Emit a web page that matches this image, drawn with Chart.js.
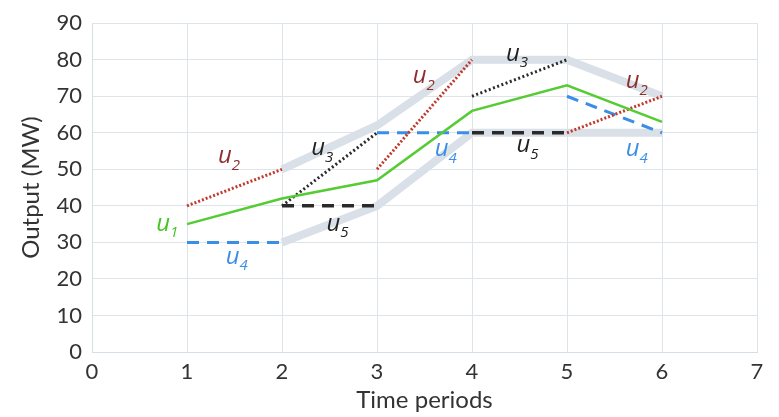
<!DOCTYPE html>
<html>
<head>
<meta charset="utf-8">
<script src="https://cdn.jsdelivr.net/npm/chart.js@4/dist/chart.umd.min.js"></script>
<style>
html,body{margin:0;padding:0;background:#fff;}
#wrap{width:779px;height:417px;}
</style>
</head>
<body>
<div id="wrap"><canvas id="c" width="779" height="417"></canvas></div>
<script>
// ---- data ----
const periods = [1, 2, 3, 4, 5, 6];
const u1Output = [35, 42, 47, 66, 73, 63];
// segments: [x0, y0, x1, y1]
const u2Segments = [[1, 40, 2, 50], [3, 50, 4, 80], [5, 60, 6, 70]];
const u3Segments = [[2, 40, 3, 60], [4, 70, 5, 80]];
const u4Segments = [[1, 30, 2, 30], [3, 60, 4, 60], [5, 70, 6, 60]];
const u5Segments = [[2, 40, 3, 40], [4, 60, 5, 60]];
const upperBandX = [2, 3, 4, 5, 6];
const upperBandY = [50, 62, 80, 80, 70];
const lowerBandX = [2, 3, 4, 5, 6];
const lowerBandY = [30, 40, 60, 60, 60];
const yTicks = [0, 10, 20, 30, 40, 50, 60, 70, 80, 90];
const xTicks = [0, 1, 2, 3, 4, 5, 6, 7];
// unit labels: [unit number, x, y]
const unitLabels = [
  [1, 0.75, 35], [2, 1.40, 53.5], [3, 2.38, 55.7], [5, 2.54, 35], [4, 1.48, 26],
  [2, 3.45, 75.4], [4, 3.68, 55.4], [3, 4.43, 81.6], [5, 4.54, 56.5],
  [2, 5.69, 74], [4, 5.69, 55.4]
];

const GREEN = '#55cc33', RED = '#c0392b', BLACK = '#2a2a2a', BLUE = '#3a8ee6', GRAY = '#d9e0e7';
const labelColors = {1: '#44c522', 2: '#8e2f2f', 3: '#222222', 4: '#3a8ee6', 5: '#222222'};

function segPoints(segs) {
  const pts = [];
  segs.forEach((s, i) => {
    if (i > 0) pts.push({x: (segs[i-1][2] + s[0]) / 2, y: null});
    pts.push({x: s[0], y: s[1]}, {x: s[2], y: s[3]});
  });
  return pts;
}
function xyPoints(xs, ys) { return xs.map((x, i) => ({x: x, y: ys[i]})); }

const datasets = [
  {label: 'u1', data: xyPoints(periods, u1Output), borderColor: GREEN, borderWidth: 2.5},
  {label: 'u2', data: segPoints(u2Segments), borderColor: RED, borderWidth: 3, borderDash: [2, 2]},
  {label: 'u3', data: segPoints(u3Segments), borderColor: BLACK, borderWidth: 3, borderDash: [2, 2.5]},
  {label: 'u4', data: segPoints(u4Segments), borderColor: BLUE, borderWidth: 3, borderDash: [12, 8]},
  {label: 'u5', data: segPoints(u5Segments), borderColor: BLACK, borderWidth: 3.5, borderDash: [12, 8]},
  {label: 'upper', data: xyPoints(upperBandX, upperBandY), borderColor: GRAY, borderWidth: 8},
  {label: 'lower', data: xyPoints(lowerBandX, lowerBandY), borderColor: GRAY, borderWidth: 8}
].map(d => Object.assign({pointRadius: 0, fill: false, spanGaps: false, tension: 0}, d));

const labelPlugin = {
  id: 'unitLabels',
  afterDatasetsDraw(chart) {
    const ctx = chart.ctx, xs = chart.scales.x, ys = chart.scales.y;
    ctx.save();
    unitLabels.forEach(([n, x, y]) => {
      const px = xs.getPixelForValue(x), py = ys.getPixelForValue(y);
      ctx.fillStyle = labelColors[n];
      ctx.textAlign = 'center';
      ctx.textBaseline = 'middle';
      ctx.font = 'italic 24px "Open Sans", Lato, sans-serif';
      ctx.fillText('u', px, py);
      ctx.font = 'italic 15px "Open Sans", Lato, sans-serif';
      ctx.fillText(String(n), px + 11, py + 9);
    });
    ctx.restore();
  }
};

const tickFont = {family: 'Lato, "Open Sans", sans-serif', size: 22};
const titleFont = {family: 'Lato, "Open Sans", sans-serif', size: 24};

new Chart(document.getElementById('c'), {
  type: 'line',
  data: {datasets: datasets},
  options: {
    responsive: false,
    animation: false,
    layout: {padding: {left: 0, right: 22, top: 10, bottom: 0}},
    plugins: {legend: {display: false}, tooltip: {enabled: false}},
    scales: {
      x: {
        type: 'linear', min: 0, max: 7,
        afterBuildTicks: a => { a.ticks = xTicks.map(v => ({value: v})); },
        ticks: {color: '#333', font: tickFont, padding: 7, maxRotation: 0},
        grid: {color: '#dde4ea', lineWidth: 1, drawTicks: false},
        border: {color: '#d6dee6'},
        title: {display: true, text: 'Time periods', color: '#333', font: titleFont, padding: {top: 0, bottom: 2}},
        afterFit: a => { a.height = 65; }
      },
      y: {
        type: 'linear', min: 0, max: 90,
        afterBuildTicks: a => { a.ticks = yTicks.map(v => ({value: v})); },
        ticks: {color: '#333', font: tickFont, padding: 10},
        grid: {color: '#dde4ea', lineWidth: 1, drawTicks: false},
        border: {color: '#d6dee6'},
        title: {display: true, text: 'Output (MW)', color: '#333', font: titleFont, padding: {top: 17, bottom: 0}},
        afterFit: a => { a.width = 92; }
      }
    }
  },
  plugins: [labelPlugin]
});
</script>
</body>
</html>
